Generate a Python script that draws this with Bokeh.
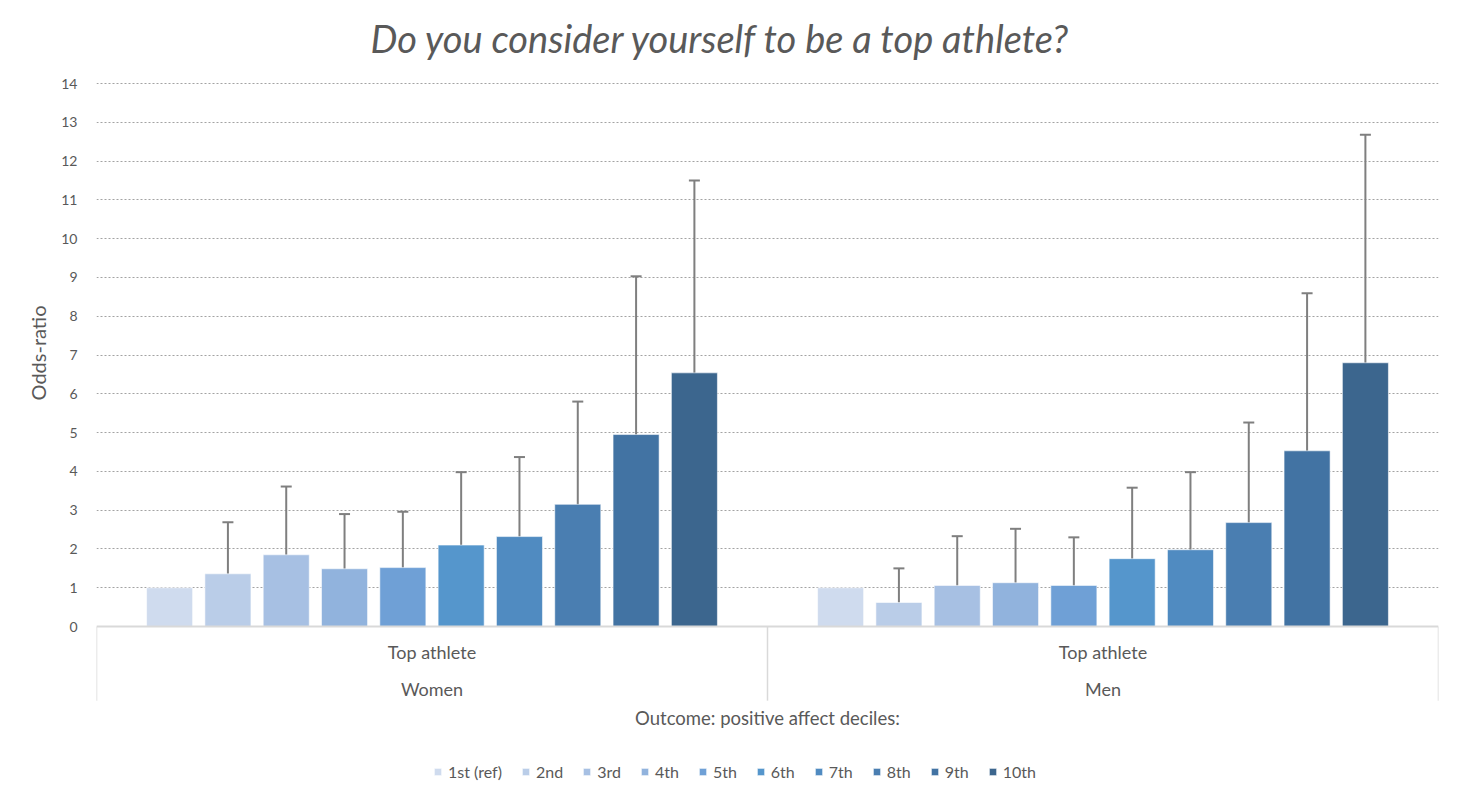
from bokeh.plotting import figure
from bokeh.models import Range1d, FixedTicker, Whisker, TeeHead, ColumnDataSource, Title
from bokeh.core.properties import value
from bokeh.embed import file_html
from bokeh.resources import INLINE

# ---- data ----
deciles = ["1st (ref)", "2nd", "3rd", "4th", "5th", "6th", "7th", "8th", "9th", "10th"]
groups = ["Women", "Men"]
outcome = "Top athlete"
women_or = [1.00, 1.36, 1.85, 1.49, 1.52, 2.10, 2.32, 3.15, 4.95, 6.54]
women_lo = [None, 0.72, 0.98, 0.78, 0.80, 1.10, 1.24, 1.70, 2.72, 3.70]
women_hi = [None, 2.69, 3.61, 2.90, 2.96, 3.98, 4.37, 5.80, 9.03, 11.50]
men_or = [1.00, 0.62, 1.06, 1.13, 1.06, 1.75, 1.98, 2.68, 4.53, 6.80]
men_lo = [None, 0.27, 0.46, 0.52, 0.46, 0.89, 1.02, 1.36, 2.37, 3.64]
men_hi = [None, 1.50, 2.33, 2.52, 2.30, 3.58, 3.98, 5.26, 8.59, 12.68]
colors = ["#cfdbee", "#bacde8", "#a7c0e3", "#91b3dd", "#6fa0d6",
          "#5596cc", "#508bc1", "#4a7eb1", "#4273a3", "#3c668e"]
y_ticks = list(range(0, 15))

FONT = "Lato"
TXT = "#595959"
UNIT = 38.79  # px per odds-ratio unit
BT = 75       # top border
TOP = 14 + 8 / UNIT
FRAME_H = 790 - BT - 3

p = figure(width=1464, height=790, output_backend="svg", toolbar_location=None,
           x_range=Range1d(0, 2), y_range=Range1d(TOP - FRAME_H / UNIT, TOP),
           min_border_left=96, min_border_right=26, min_border_top=BT,
           min_border_bottom=3, title="Do you consider yourself to be a top athlete?")
p.outline_line_color = None
p.xaxis.visible = False
p.xgrid.visible = False

p.title.align = "left"
p.title.vertical_align = "top"
p.title.offset = 274
p.title.standoff = 26
p.title.text_font = FONT
p.title.text_font_style = "italic"
p.title.text_font_size = "38px"
p.title.text_color = TXT

p.yaxis.ticker = FixedTicker(ticks=y_ticks)
p.yaxis.axis_line_color = None
p.yaxis.major_tick_line_color = None
p.yaxis.minor_tick_line_color = None
p.yaxis.major_label_standoff = 13
p.yaxis.major_label_text_font = FONT
p.yaxis.major_label_text_font_size = "14px"
p.yaxis.major_label_text_color = TXT

# y-axis title, placed alongside the 0..14 value span
p.add_layout(Title(text="Odds-ratio", align="right", offset=230, standoff=18,
                   text_font=FONT, text_font_size="20px", text_font_style="normal",
                   text_color=TXT), "left")

p.ygrid.ticker = FixedTicker(ticks=y_ticks[1:])
p.ygrid.grid_line_color = "#8c8c8c"
p.ygrid.grid_line_dash = "2 2"
p.ygrid.grid_line_alpha = 0.8

n = len(deciles)
step = 0.0869
bw = 0.0686

def xpos(g, k):
    return g + 0.5 + (k - (n - 1) / 2) * step

# bars
for k, d in enumerate(deciles):
    src = ColumnDataSource(dict(x=[xpos(0, k), xpos(1, k)], top=[women_or[k], men_or[k]]))
    p.vbar(x="x", top="top", bottom=0, width=bw, source=src, fill_color=colors[k],
           line_color="white", line_alpha=0.55, line_width=1, legend_label=d)

# error bars
ex, elo, ehi = [], [], []
for g, (lo, hi) in enumerate([(women_lo, women_hi), (men_lo, men_hi)]):
    for k in range(n):
        if lo[k] is not None:
            ex.append(xpos(g, k)); elo.append(lo[k]); ehi.append(hi[k])
esrc = ColumnDataSource(dict(x=ex, lo=elo, hi=ehi))
ecol = "#7f7f7f"
p.add_layout(Whisker(base="x", lower="lo", upper="hi", source=esrc,
                     line_color=ecol, line_width=2,
                     upper_head=TeeHead(size=11, line_color=ecol, line_width=2),
                     lower_head=TeeHead(size=11, line_color=ecol, line_width=2)))

# category axis box
p.segment(x0=[0], y0=[0], x1=[2], y1=[0], line_color="#d9d9d9", line_width=2)
p.segment(x0=[0, 1, 2], y0=[0, 0, 0], x1=[0, 1, 2], y1=[-1.91, -1.91, -1.91],
          line_color="#d9d9d9", line_width=1.5)
p.text(x=[0.5, 1.5], y=[-0.645, -0.645], text=[outcome, outcome],
       text_font=value(FONT), text_font_size="18px", text_color=TXT,
       text_align="center", text_baseline="middle")
p.text(x=[0.5, 1.5], y=[-1.6, -1.6], text=groups,
       text_font=value(FONT), text_font_size="18px", text_color=TXT,
       text_align="center", text_baseline="middle")
p.text(x=[1.0], y=[-2.35], text=["Outcome: positive affect deciles:"],
       text_font=value(FONT), text_font_size="18.5px", text_color=TXT,
       text_align="center", text_baseline="middle")

lg = p.legend[0]
lg.location = (337, 6)
lg.orientation = "horizontal"
lg.border_line_color = None
lg.background_fill_alpha = 0
lg.label_text_font = FONT
lg.label_text_font_size = "16px"
lg.label_text_color = TXT
lg.glyph_width = 9
lg.glyph_height = 9
lg.label_standoff = 6
lg.spacing = 19
lg.padding = 2
lg.margin = 6

open("out.html", "w").write(file_html(p, INLINE))
